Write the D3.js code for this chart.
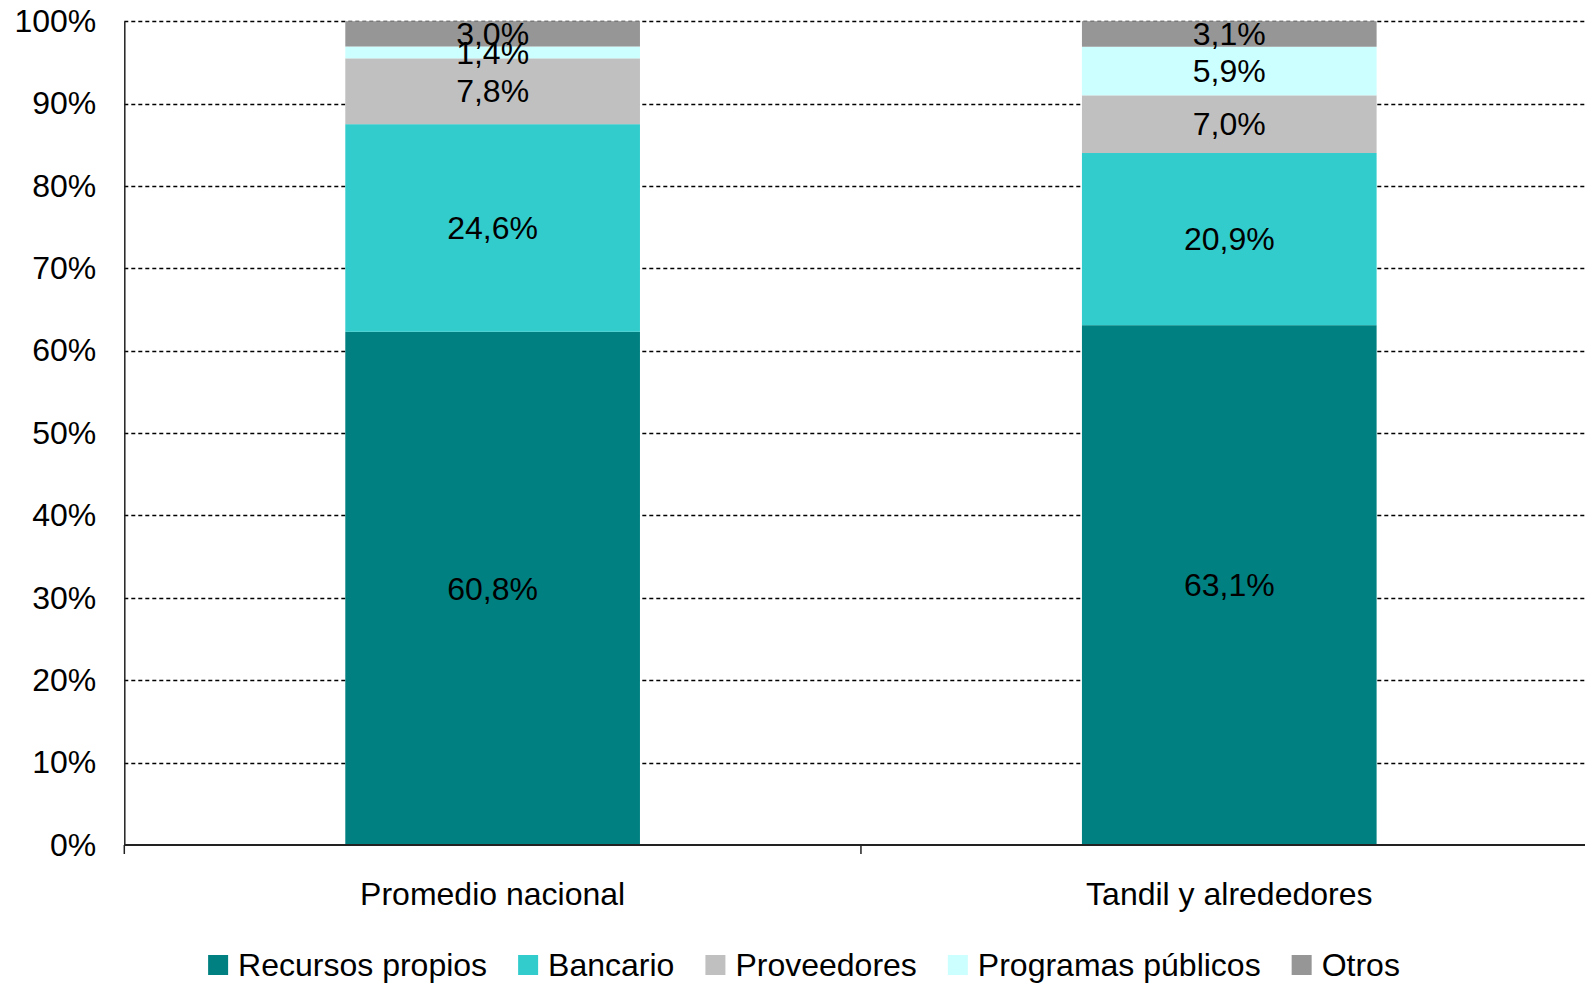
<!DOCTYPE html>
<html><head><meta charset="utf-8">
<script src="https://cdn.jsdelivr.net/npm/d3@7"></script>
<style>
html,body{margin:0;padding:0;background:#fff;overflow:hidden}
svg{display:block;font-family:"Liberation Sans",Arial,sans-serif}
</style></head>
<body><svg id="c" width="1585" height="986"></svg>
<script>
const categories = ["Promedio nacional", "Tandil y alrededores"];
const seriesNames = ["Recursos propios", "Bancario", "Proveedores", "Programas públicos", "Otros"];
const recursosPropios = [60.8, 63.1];
const bancario = [24.6, 20.9];
const proveedores = [7.8, 7.0];
const programasPublicos = [1.4, 5.9];
const otros = [3.0, 3.1];
const yTicks = [0, 0.1, 0.2, 0.3, 0.4, 0.5, 0.6, 0.7, 0.8, 0.9, 1.0];
const colors = ["#008080", "#33CCCC", "#C0C0C0", "#CCFFFF", "#969696"];

(function () {
const seriesValues = [recursosPropios, bancario, proveedores, programasPublicos, otros];
const rows = categories.map((c, i) => {
  const r = {cat: c};
  seriesNames.forEach((s, j) => r[s] = seriesValues[j][i]);
  return r;
});

const svg = d3.select("#c");
const pLeft = 124.3, pRight = 1597.6, pTop = 21.2, pBottom = 845;
const x = d3.scaleBand().domain(categories).range([pLeft, pRight]).paddingInner(0.6).paddingOuter(0.3);
const y = d3.scaleLinear().domain([0, 1]).range([pBottom, pTop]);
const FS = 32;

// gridlines
svg.append("g").selectAll("line").data(yTicks.filter(d => d > 0)).join("line")
  .attr("x1", pLeft).attr("x2", pRight)
  .attr("y1", d => Math.round(y(d)) + 0.5).attr("y2", d => Math.round(y(d)) + 0.5)
  .attr("stroke", "#000").attr("stroke-width", 1.3).attr("stroke-dasharray", "4,3");

const stack = d3.stack().keys(seriesNames).offset(d3.stackOffsetExpand);
const stacked = stack(rows);

const g = svg.append("g");
stacked.forEach((layer, j) => {
  g.selectAll(null).data(layer).join("rect")
    .attr("x", d => x(d.data.cat))
    .attr("width", x.bandwidth())
    .attr("y", d => y(d[1]))
    .attr("height", d => y(d[0]) - y(d[1]))
    .attr("fill", colors[j]);
});
const fmt = v => d3.format(".1f")(v).replace(".", ",") + "%";
stacked.forEach((layer, j) => {
  g.selectAll(null).data(layer).join("text")
    .attr("x", d => x(d.data.cat) + x.bandwidth() / 2)
    .attr("y", d => (y(d[0]) + y(d[1])) / 2)
    .attr("dy", "0.35em")
    .attr("text-anchor", "middle")
    .attr("font-size", FS)
    .attr("fill", "#000")
    .text(d => fmt(d.data[layer.key]));
});

// y axis
const yAxis = d3.axisLeft(y).tickValues(yTicks).tickFormat(d => Math.round(d * 100) + "%").tickSize(0).tickPadding(28);
const ya = svg.append("g").attr("transform", `translate(${pLeft},0)`).call(yAxis);
ya.select(".domain").attr("stroke", "#222").attr("stroke-width", 1.5);
ya.selectAll("text").attr("font-size", FS).attr("fill", "#000").attr("font-family", "Liberation Sans, Arial, sans-serif");

// x axis
const xa = svg.append("g").attr("transform", `translate(0,${pBottom})`);
xa.append("line").attr("x1", pLeft).attr("x2", pRight).attr("y1", 0).attr("y2", 0).attr("stroke", "#222").attr("stroke-width", 2);
const boundaries = [pLeft, pLeft + (pRight - pLeft) / 2, pRight];
xa.selectAll("line.tk").data(boundaries).join("line").attr("class", "tk")
  .attr("x1", d => d).attr("x2", d => d).attr("y1", 0).attr("y2", 9).attr("stroke", "#222").attr("stroke-width", 1.5);
xa.selectAll("text").data(categories).join("text")
  .attr("x", d => x(d) + x.bandwidth() / 2).attr("y", 60)
  .attr("text-anchor", "middle").attr("font-size", FS).attr("fill", "#000").text(d => d);

// legend
const lg = svg.append("g");
const sw = 20, gapText = 10, gapItem = 31;
let cx = 0;
seriesNames.forEach((s, j) => {
  const it = lg.append("g");
  it.append("rect").attr("x", 0).attr("y", -10).attr("width", sw).attr("height", sw).attr("fill", colors[j]);
  const t = it.append("text").attr("x", sw + gapText).attr("y", 0).attr("dy", "0.35em").attr("font-size", FS).attr("fill", "#000").text(s);
  const w = t.node().getComputedTextLength();
  it.attr("transform", `translate(${cx},0)`);
  cx += sw + gapText + w + gapItem;
});
const totalW = cx - gapItem;
lg.attr("transform", `translate(${804 - totalW / 2},${965})`);
})();
</script></body></html>
